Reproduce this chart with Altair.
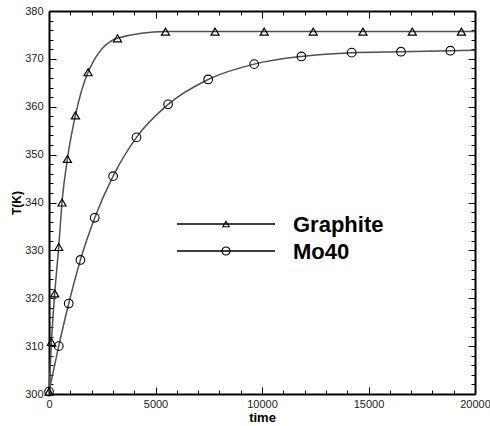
import altair as alt
import pandas as pd

# ---- data ----
series = ["Graphite", "Mo40"]

graphite_time = [0, 113, 268, 456, 611, 864, 1240, 1835, 3214, 5470, 7797, 10103, 12406, 14741, 17058, 19361]
graphite_T = [300.5, 310.9, 321.0, 330.7, 340.0, 349.1, 358.2, 367.2, 374.3, 375.7, 375.7, 375.7, 375.7, 375.7, 375.7, 375.7]

mo40_time = [0, 456, 926, 1475, 2148, 3008, 4107, 5592, 7472, 9633, 11850, 14211, 16527, 18844]
mo40_T = [300.5, 310.0, 318.9, 328.0, 336.8, 345.5, 353.6, 360.5, 365.7, 368.9, 370.5, 371.3, 371.5, 371.7]

end_time = 20000
graphite_end_T = 375.7
mo40_end_T = 371.8

time_major = [0, 5000, 10000, 15000, 20000]
time_minor = list(range(0, 20001, 1000))
temp_major = [300, 310, 320, 330, 340, 350, 360, 370, 380]
temp_minor = list(range(300, 381, 2))

# ---- tables ----
g_pts = pd.DataFrame({"time": graphite_time, "T": graphite_T})
m_pts = pd.DataFrame({"time": mo40_time, "T": mo40_T})
g_line = pd.concat([g_pts, pd.DataFrame({"time": [end_time], "T": [graphite_end_T]})], ignore_index=True)
m_line = pd.concat([m_pts, pd.DataFrame({"time": [end_time], "T": [mo40_end_T]})], ignore_index=True)

FONT = "Liberation Sans"
LINE_COLOR = "#505050"

xs = alt.Scale(domain=[0, 20000], nice=False, zero=False)
ys = alt.Scale(domain=[300, 380], nice=False, zero=False)

common = dict(grid=False, tickColor="black", tickWidth=1, domainColor="black",
              labelFont=FONT, labelFontSize=11, labelColor="#222222")

x_bottom = alt.Axis(orient="bottom", values=time_major, format="d", tickSize=alt.ExprRef("-7"),
                    labelPadding=11, domainWidth=2, title="time", titleFont=FONT,
                    titleFontSize=13, titleFontWeight="bold", titlePadding=2, titleColor="black",
                    labelFlush=False, **common)
x_bottom_minor = alt.Axis(orient="bottom", values=time_minor, tickSize=alt.ExprRef("-4"),
                          labels=False, domain=False, title="", **common)
x_top = alt.Axis(orient="top", values=time_major, tickSize=alt.ExprRef("-7"), labels=False,
                 domainWidth=2, title="", **common)
x_top_minor = alt.Axis(orient="top", values=time_minor, tickSize=alt.ExprRef("-4"),
                       labels=False, domain=False, title="", **common)

y_left = alt.Axis(orient="left", values=temp_major, format="d", tickSize=alt.ExprRef("-7"),
                  labelPadding=13, domainWidth=2, title="T(K)", titleFont=FONT,
                  titleFontSize=12, titleFontWeight="bold", titlePadding=1, titleColor="black",
                  **common)
y_left_minor = alt.Axis(orient="left", values=temp_minor, tickSize=alt.ExprRef("-4"),
                        labels=False, domain=False, title="", **common)
y_right = alt.Axis(orient="right", values=temp_major, tickSize=alt.ExprRef("-7"), labels=False,
                   domainWidth=2, title="", **common)
y_right_minor = alt.Axis(orient="right", values=temp_minor, tickSize=alt.ExprRef("-4"),
                         labels=False, domain=False, title="", **common)

g_line_layer = alt.Chart(g_line).mark_line(color=LINE_COLOR, strokeWidth=1.5, interpolate="monotone").encode(
    x=alt.X("time:Q", scale=xs, axis=x_bottom),
    y=alt.Y("T:Q", scale=ys, axis=y_left),
)
m_line_layer = alt.Chart(m_line).mark_line(color=LINE_COLOR, strokeWidth=1.5, interpolate="monotone").encode(
    x=alt.X("time:Q", scale=xs, axis=x_bottom_minor),
    y=alt.Y("T:Q", scale=ys, axis=y_left_minor),
)
g_pt_layer = alt.Chart(g_pts).mark_point(shape="triangle-up", size=65, color="black",
                                          filled=False, strokeWidth=1.2, opacity=1).encode(
    x=alt.X("time:Q", scale=xs, axis=x_top),
    y=alt.Y("T:Q", scale=ys, axis=y_right),
)
m_pt_layer = alt.Chart(m_pts).mark_point(shape="circle", size=75, color="black",
                                          filled=False, strokeWidth=1.1, opacity=1).encode(
    x=alt.X("time:Q", scale=xs, axis=x_top_minor),
    y=alt.Y("T:Q", scale=ys, axis=y_right_minor),
)

# ---- legend (drawn by hand) ----
leg_g = pd.DataFrame({"series": [series[0]]})
leg_m = pd.DataFrame({"series": [series[1]]})

def legend_rows(df, shape, size, y):
    rule = alt.Chart(df).mark_rule(color="black", strokeWidth=1.3).encode(
        x=alt.value(128), x2=alt.value(226), y=alt.value(y))
    mark = alt.Chart(df).mark_point(shape=shape, size=size, color="black", filled=False,
                                    strokeWidth=1.1, opacity=1).encode(
        x=alt.value(177), y=alt.value(y))
    txt = alt.Chart(df).mark_text(align="left", baseline="alphabetic", font=FONT, fontSize=22,
                                  fontWeight="bold", color="black").encode(
        text="series:N", x=alt.value(244), y=alt.value(y + 8))
    return [rule, mark, txt]

layers = [g_line_layer, m_line_layer, g_pt_layer, m_pt_layer]
layers += legend_rows(leg_g, "triangle-up", 40, 213)
layers += legend_rows(leg_m, "circle", 65, 240)

chart = alt.layer(*layers).resolve_axis(x="independent", y="independent").properties(
    width=426, height=383,
    padding={"left": 49, "top": 11, "right": 15, "bottom": 32},
    autosize=alt.AutoSizeParams(type="none"),
    background="white",
).configure_view(strokeWidth=0).configure(font=FONT)

chart.save("out.html", embed_options={"renderer": "svg", "actions": False})
